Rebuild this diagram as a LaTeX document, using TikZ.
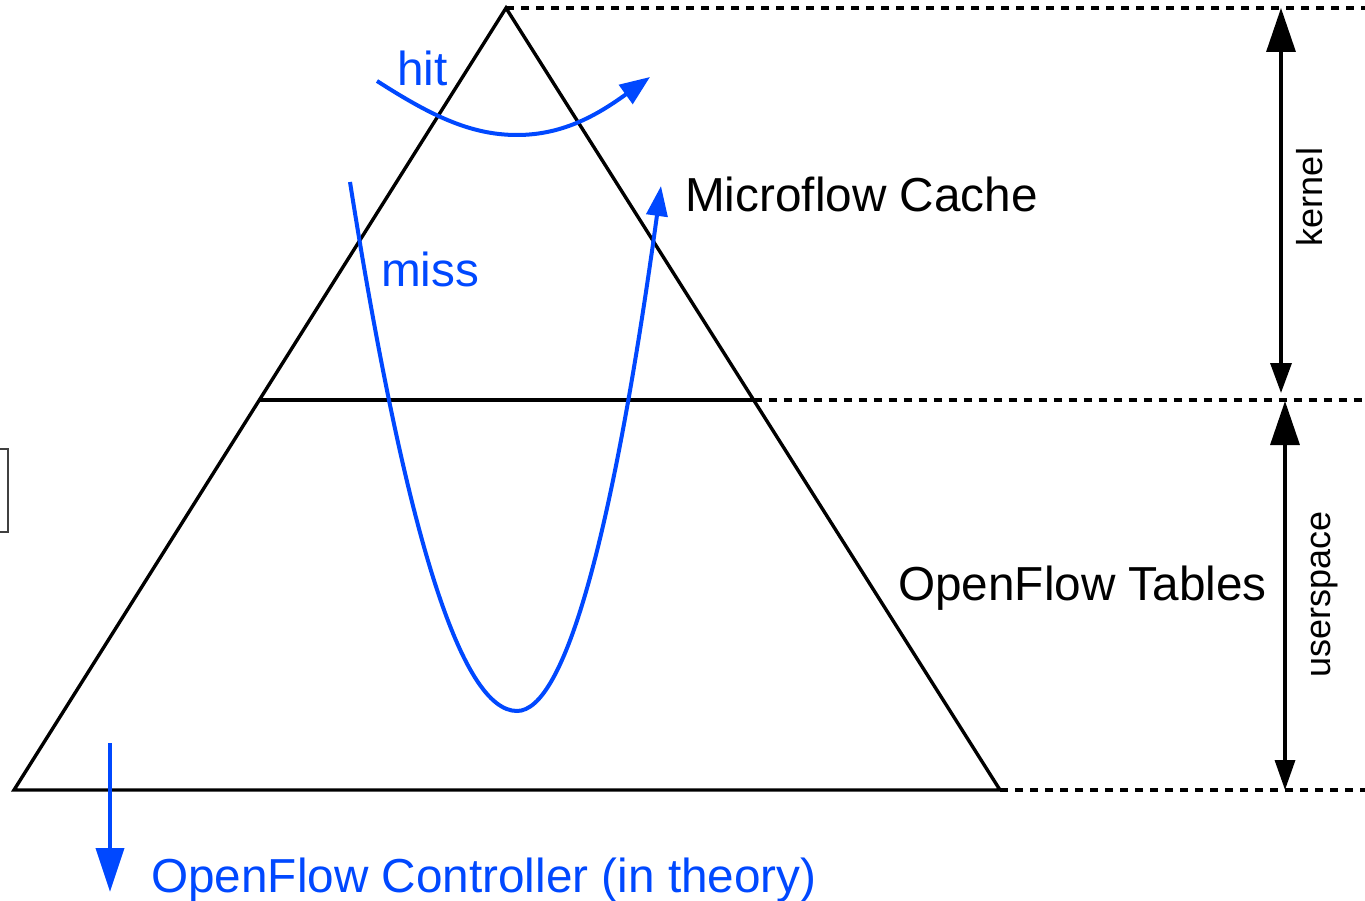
\documentclass[tikz,border=0pt]{standalone}
\usepackage{fontspec}
\setmainfont{Liberation Sans}
\usetikzlibrary{arrows.meta}
\definecolor{flowblue}{RGB}{0,72,255}
\begin{document}
\begin{tikzpicture}[x=1pt,y=-1pt,
  edge/.style={line width=3.4pt,line join=miter},
  guide/.style={line width=3.2pt,dash pattern=on 8pt off 7pt},
  flow/.style={flowblue,line width=4pt},
  bigtext/.style={inner sep=0pt,anchor=base west,font=\fontsize{47.7}{56}\selectfont},
  sidetext/.style={inner sep=0pt,anchor=base,rotate=90,font=\fontsize{36}{43}\selectfont},
  measure/.style={line width=3.4pt},
]
\useasboundingbox (0,0) rectangle (1365,901);

% pyramid corners and level split
\coordinate (apex) at (506,8);
\coordinate (bl) at (14,790);
\coordinate (br) at (1000,790);
\coordinate (ml) at (259.5,400);
\coordinate (mr) at (753.5,400);
\coordinate (topR) at (1365,8);
\coordinate (midR) at (1365,400);
\coordinate (botR) at (1365,790);

% partial frame at the left border
\draw[line width=1.8pt,black!75] (0,449) -- (8,449) -- (8,532) -- (0,532);

% pyramid
\draw[edge] (apex) -- (bl) -- (br) -- cycle;
\draw[edge] (ml) -- (mr);

% level guides
\draw[guide] (apex) -- (topR);
\draw[guide] (mr) -- (midR);
\draw[guide] (br) -- (botR);

% kernel / userspace extents
\coordinate (kTop) at (1281,8);
\coordinate (kBot) at (1281,393);
\coordinate (uTop) at (1285,401);
\coordinate (uBot) at (1285,790);
\draw[measure,{Triangle[length=44pt,width=29pt]}-{Triangle[length=30pt,width=21pt]}] (kTop) -- (kBot);
\draw[measure,{Triangle[length=44pt,width=29pt]}-{Triangle[length=30pt,width=20pt]}] (uTop) -- (uBot);
\node[sidetext] (kernel) at (1322,197) {kernel};
\node[sidetext] (userspace) at (1330,594) {userspace};

% level labels
\node[bigtext] (cache) at (685,212) {Microflow Cache};
\node[bigtext] (tables) at (898,600) {OpenFlow Tables};

% hit path
\coordinate (hitStart) at (377,81);
\coordinate (hitLow) at (517,135);
\coordinate (hitEnd) at (650,77);
\draw[flow,-{Triangle[length=30pt,width=23pt]}] (hitStart)
  .. controls (430,115) and (470,135) .. (hitLow)
  .. controls (565,135) and (600,113) .. (hitEnd);
\node[bigtext,text=flowblue] (hit) at (397,86) {hit};

% miss path
\coordinate (missStart) at (350,182);
\coordinate (missLow) at (517,711);
\coordinate (missEnd) at (661,186);
\draw[flow,-{Triangle[length=30pt,width=21pt]}] (missStart)
  .. controls (405.7,534.7) and (461.3,711) .. (missLow)
  .. controls (564.7,711) and (613,536) .. (missEnd);
\node[bigtext,text=flowblue] (miss) at (381,287) {miss};

% escalation to the controller
\coordinate (ctlStart) at (110,743);
\coordinate (ctlEnd) at (110,892);
\draw[flow,-{Triangle[length=44pt,width=28pt]}] (ctlStart) -- (ctlEnd);
\node[bigtext,text=flowblue] (controller) at (151,892) {OpenFlow Controller (in theory)};
\end{tikzpicture}
\end{document}
